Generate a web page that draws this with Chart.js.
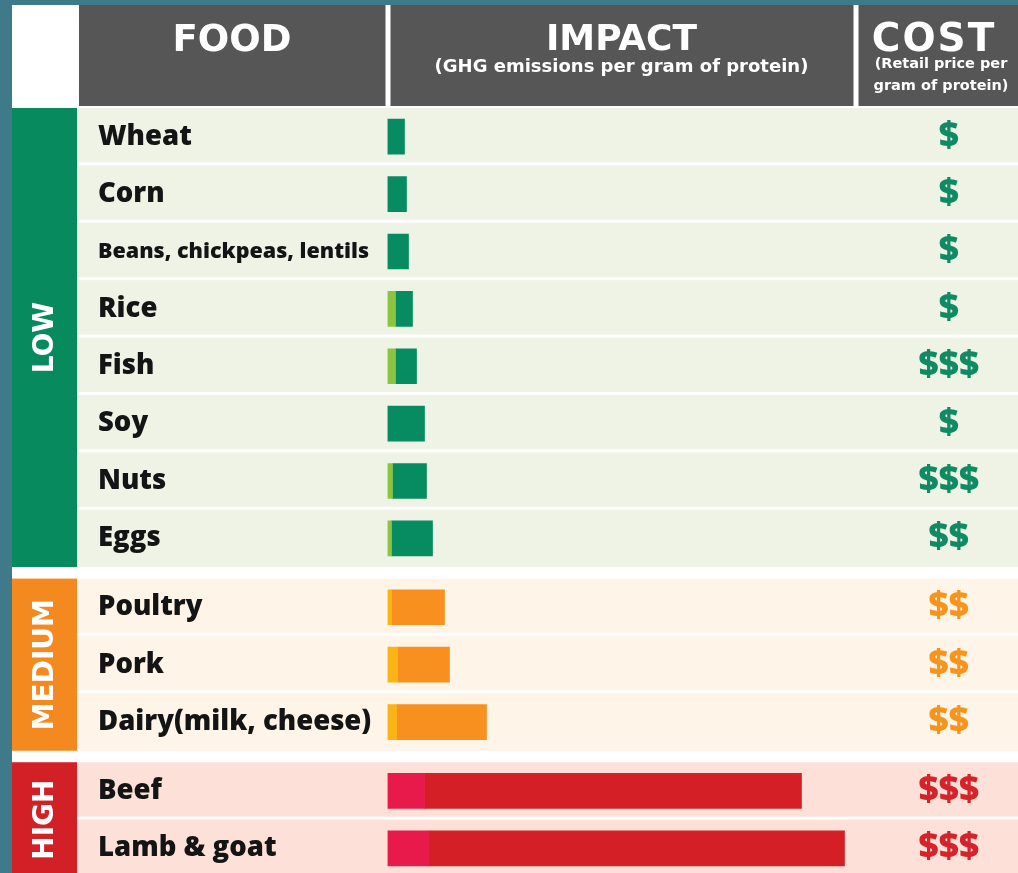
<!DOCTYPE html>
<html>
<head>
    <title>Protein foods: climate impact and cost</title>
    <script src="https://cdn.jsdelivr.net/npm/chart.js"></script>
    <style>
        body { margin: 0; background: #3e7a8a; }
        #wrap { width: 1018px; height: 873px; }
    </style>
</head>
<body>
    <div id="wrap"><canvas id="foodChart"></canvas></div>

    <script>
    // foods, top to bottom
    const foods = ['Wheat', 'Corn', 'Beans, chickpeas, lentils', 'Rice', 'Fish', 'Soy', 'Nuts', 'Eggs',
                   'Poultry', 'Pork', 'Dairy(milk, cheese)', 'Beef', 'Lamb & goat'];
    const levels = ['LOW', 'MEDIUM', 'HIGH'];
    const levelOf = [0, 0, 0, 0, 0, 0, 0, 0, 1, 1, 1, 2, 2];
    const costs = ['$', '$', '$', '$', '$$$', '$', '$$$', '$$', '$$', '$$', '$$', '$$$', '$$$'];
    // GHG per gram of protein, drawn as a light part + a main part
    const impactLight = [0, 0, 0, 8, 8, 0, 5, 4, 4, 10, 9, 37, 41];
    const impactMain = [17, 19, 21, 17, 21, 37, 34, 41, 53, 52, 90, 377, 416];

    const lightColors = ['#8cc43f', '#fcb316', '#e8194b'];
    const mainColors = ['#078c62', '#f7901e', '#d41f27'];
    const rowColors = ['#eef3e6', '#fef4e7', '#fde1d8'];
    const bandColors = ['#088a5f', '#f48a1f', '#d32027'];
    const costColors = ['#0f8a62', '#f7941e', '#d5232b'];

    // row centres in row units, with a small gap between levels
    const levelGap = 0.2;
    const rowPos = foods.map((f, i) => i + 0.5 + levelOf[i] * levelGap);
    const yMax = 13.33;

    const sans = '"Open Sans", "DejaVu Sans", sans-serif';
    const heavy = '"DejaVu Sans", sans-serif';

    const tablePlugin = {
        id: 'table',
        beforeDraw(chart) {
            const ctx = chart.ctx;
            const y = chart.scales.y;
            const area = chart.chartArea;
            const W = chart.width, H = chart.height;
            ctx.save();

            ctx.fillStyle = '#ffffff';
            ctx.fillRect(12, 5, W - 12, H - 5);

            // header cells
            const hTop = 5, hBot = 106;
            ctx.fillStyle = '#565656';
            ctx.fillRect(79, hTop, area.left - 2 - 79, hBot - hTop);
            ctx.fillRect(area.left + 3, hTop, area.right - area.left - 3, hBot - hTop);
            ctx.fillRect(area.right + 5, hTop, W - area.right - 5, hBot - hTop);

            ctx.fillStyle = '#ffffff';
            ctx.textAlign = 'center';
            ctx.textBaseline = 'alphabetic';
            ctx.font = 'bold 37px ' + heavy;
            ctx.fillText('FOOD', 232, 51);
            ctx.font = 'bold 36px ' + heavy;
            ctx.fillText('IMPACT', (area.left + area.right) / 2 + 1, 50);
            ctx.font = 'bold 39px ' + heavy;
            ctx.letterSpacing = '2px';
            ctx.fillText('COST', 934, 51);
            ctx.letterSpacing = '0px';
            ctx.font = 'bold 18px ' + heavy;
            ctx.fillText('(GHG emissions per gram of protein)', (area.left + area.right) / 2 + 1, 72);
            ctx.font = 'bold 14.5px ' + heavy;
            ctx.fillText('(Retail price per', 941, 68);
            ctx.fillText('gram of protein)', 941, 90);

            // rows and level bands
            levels.forEach((name, g) => {
                const idx = levelOf.map((l, i) => l === g ? i : -1).filter(i => i >= 0);
                const top = y.getPixelForValue(rowPos[idx[0]] - 0.5);
                const bot = y.getPixelForValue(rowPos[idx[idx.length - 1]] + 0.5);
                idx.forEach((i, k) => {
                    const rt = y.getPixelForValue(rowPos[i] - 0.5);
                    const rb = y.getPixelForValue(rowPos[i] + 0.5) - (k < idx.length - 1 ? 3 : 0);
                    ctx.fillStyle = rowColors[g];
                    ctx.fillRect(77, rt, W - 77, rb - rt);
                });
                ctx.fillStyle = bandColors[g];
                ctx.fillRect(12, top, 65, bot - top);
                ctx.save();
                ctx.translate(45, (top + Math.min(bot, H + 4)) / 2);
                ctx.rotate(-Math.PI / 2);
                ctx.fillStyle = '#ffffff';
                ctx.font = 'bold 28px ' + heavy;
                ctx.textAlign = 'center';
                ctx.textBaseline = 'middle';
                ctx.fillText(name, 0, 1);
                ctx.restore();
            });
            ctx.restore();
        }
    };

    // keep the axis a fixed width and drop the label overhang padding
    function fixAxis(width) {
        return axis => {
            axis.width = width;
            axis.paddingTop = 0;
            axis.paddingBottom = 0;
        };
    }

    const ctx = document.getElementById('foodChart').getContext('2d');
    new Chart(ctx, {
        type: 'bar',
        data: {
            datasets: [{
                label: 'light',
                data: impactLight.map((v, i) => ({ x: v, y: rowPos[i] })),
                backgroundColor: foods.map((f, i) => lightColors[levelOf[i]]),
                stack: 'impact'
            }, {
                label: 'main',
                data: impactMain.map((v, i) => ({ x: v, y: rowPos[i] })),
                backgroundColor: foods.map((f, i) => mainColors[levelOf[i]]),
                stack: 'impact'
            }]
        },
        options: {
            indexAxis: 'y',
            responsive: true,
            maintainAspectRatio: false,
            animation: false,
            layout: { padding: { left: 98, top: 108, right: 0, bottom: 0 } },
            datasets: { bar: { barThickness: 35, borderWidth: 0 } },
            plugins: { legend: { display: false }, tooltip: { enabled: false } },
            scales: {
                x: {
                    type: 'linear',
                    stacked: true,
                    min: 0,
                    max: 466,
                    display: false
                },
                y: {
                    type: 'linear',
                    position: 'left',
                    reverse: true,
                    offset: false,
                    min: 0,
                    max: yMax,
                    grid: { display: false, drawTicks: false },
                    border: { display: false },
                    afterBuildTicks: axis => { axis.ticks = rowPos.map(v => ({ value: v })); },
                    afterFit: fixAxis(289.5),
                    ticks: {
                        autoSkip: false,
                        padding: 0,
                        crossAlign: 'far',
                        color: '#141414',
                        font: c => c.index === 2
                            ? { family: sans, size: 21.5, weight: 800 }
                            : { family: sans, size: 27.5, weight: 800 },
                        callback: (value, index) => foods[index]
                    }
                },
                cost: {
                    type: 'linear',
                    position: 'right',
                    reverse: true,
                    offset: false,
                    min: 0,
                    max: yMax,
                    grid: { display: false, drawTicks: false },
                    border: { display: false },
                    afterBuildTicks: axis => { axis.ticks = rowPos.map(v => ({ value: v })); },
                    afterFit: fixAxis(164.5),
                    ticks: {
                        autoSkip: false,
                        padding: 65,
                        crossAlign: 'center',
                        color: c => costColors[levelOf[c.index]],
                        font: { family: sans, size: 35, weight: 800 },
                        callback: (value, index) => costs[index]
                    }
                }
            }
        },
        plugins: [tablePlugin]
    });
    </script>
</body>
</html>
